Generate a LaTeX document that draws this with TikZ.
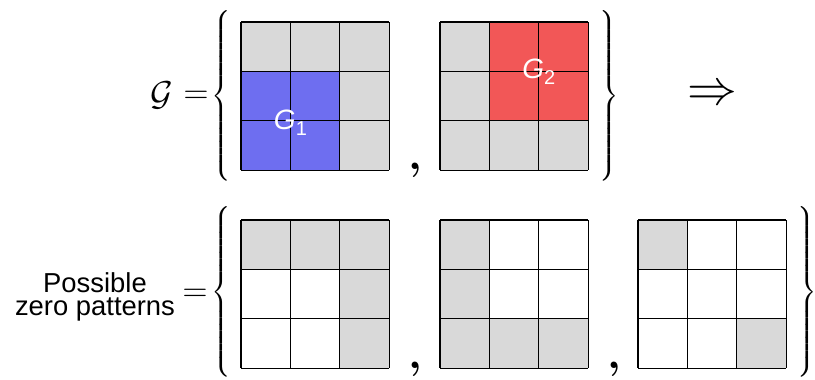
\documentclass[tikz,border=0pt]{standalone}
\usepackage{fontspec}
\setmainfont{Liberation Sans}
\usepackage{amsmath}
\usepackage{tikz}
\usetikzlibrary{positioning}

\definecolor{cellgray}{HTML}{D9D9D9}
\definecolor{blockblue}{HTML}{6E6EF0}
\definecolor{blockred}{HTML}{F25757}

% tall set braces
\newcommand{\patopen}{$\left\{\vcenter{\hbox{\rule{0pt}{86.8pt}}}\right.$}
\newcommand{\patclose}{$\left.\vcenter{\hbox{\rule{0pt}{86.8pt}}}\right\}$}

\begin{document}
\begin{tikzpicture}[
        x=0.5pt, y=-0.5pt,
        mathsym/.style={inner sep=0pt, font=\fontsize{16.5}{18}\selectfont},
        setbrace/.style={inner sep=0pt, font=\fontsize{11.2}{13}\selectfont},
        blocklbl/.style={text=white, inner sep=0pt, font=\fontsize{14}{16}\selectfont},
        sidetext/.style={align=center, inner sep=0pt, font=\fontsize{13.7}{11.8}\selectfont},
        sepcomma/.style={inner sep=0pt, font=\fontsize{21}{22}\selectfont\boldmath},
        gridline/.style={line width=0.6pt},
        zero/.style={fill=cellgray},
        cellunit/.style={x=24.72pt, y=-24.72pt}
    ]
        \useasboundingbox (0,0) rectangle (815,380);

        % Row 1: G = { G1 , G2 }  =>
        \node[mathsym] (calg) at (162,95) {$\mathcal{G}$};
        \node[mathsym] (eqtop) at (196,97) {$=$};
        \node[setbrace] (lbtop) at (222,96) {\patopen};

        \coordinate (topa) at (241,22);
        \begin{scope}[shift={(topa)}, cellunit]
            \fill[zero] (0,0) rectangle (3,1);
            \fill[zero] (2,1) rectangle (3,3);
            \fill[blockblue] (0,1) rectangle (2,3);
            \foreach \i in {0,...,3} {
                \draw[gridline] (\i,0) -- (\i,3);
                \draw[gridline] (0,\i) -- (3,\i);
            }
            \node[blocklbl] (gone) at (1,2.04) {\textit{G}\raisebox{-0.4ex}{\fontsize{10}{10}\selectfont 1}};
        \end{scope}

        \node[sepcomma] (comtop) at (415,170) {$,$};

        \coordinate (topb) at (440,22);
        \begin{scope}[shift={(topb)}, cellunit]
            \fill[zero] (0,0) rectangle (1,2);
            \fill[zero] (0,2) rectangle (3,3);
            \fill[blockred] (1,0) rectangle (3,2);
            \foreach \i in {0,...,3} {
                \draw[gridline] (\i,0) -- (\i,3);
                \draw[gridline] (0,\i) -- (3,\i);
            }
            \node[blocklbl] (gtwo) at (2,1) {\textit{G}\raisebox{-0.4ex}{\fontsize{10}{10}\selectfont 2}};
        \end{scope}

        \node[setbrace] (rbtop) at (608,96) {\patclose};
        \node[mathsym, font=\fontsize{27}{28}\selectfont] (implies) at (712,95) {$\Rightarrow$};

        % Row 2: possible zero patterns
        \node[sidetext] (zp) at (95,297) {Possible\\zero patterns};
        \node[mathsym] (eqbot) at (195,295) {$=$};
        \node[setbrace] (lbbot) at (222,292) {\patopen};

        \coordinate (bota) at (241,220);
        \begin{scope}[shift={(bota)}, cellunit]
            \fill[zero] (0,0) rectangle (3,1);
            \fill[zero] (2,1) rectangle (3,3);
            \foreach \i in {0,...,3} {
                \draw[gridline] (\i,0) -- (\i,3);
                \draw[gridline] (0,\i) -- (3,\i);
            }
        \end{scope}

        \node[sepcomma] (combota) at (415,369) {$,$};

        \coordinate (botb) at (440,220);
        \begin{scope}[shift={(botb)}, cellunit]
            \fill[zero] (0,0) rectangle (1,3);
            \fill[zero] (1,2) rectangle (3,3);
            \foreach \i in {0,...,3} {
                \draw[gridline] (\i,0) -- (\i,3);
                \draw[gridline] (0,\i) -- (3,\i);
            }
        \end{scope}

        \node[sepcomma] (combotb) at (614,369) {$,$};

        \coordinate (botc) at (638,220);
        \begin{scope}[shift={(botc)}, cellunit]
            \fill[zero] (0,0) rectangle (1,1);
            \fill[zero] (2,2) rectangle (3,3);
            \foreach \i in {0,...,3} {
                \draw[gridline] (\i,0) -- (\i,3);
                \draw[gridline] (0,\i) -- (3,\i);
            }
        \end{scope}

        \node[setbrace] (rbbot) at (806,292) {\patclose};

    \end{tikzpicture}
\end{document}
